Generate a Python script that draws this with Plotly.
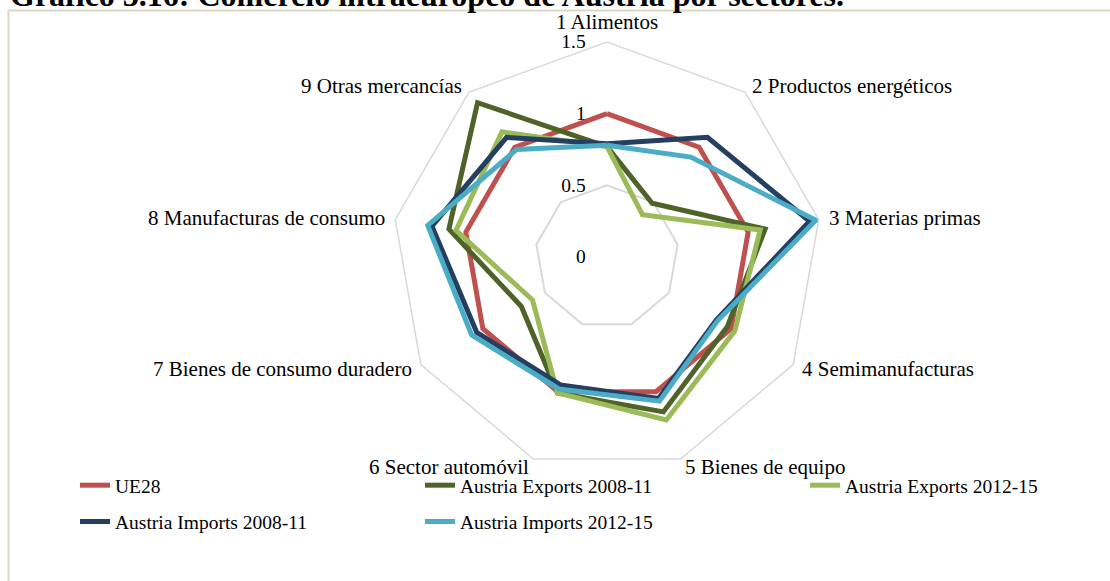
import math
import plotly.graph_objects as go

categories = ["1 Alimentos", "2 Productos energéticos", "3 Materias primas",
              "4 Semimanufacturas", "5 Bienes de equipo", "6 Sector automóvil",
              "7 Bienes de consumo duradero", "8 Manufacturas de consumo",
              "9 Otras mercancías"]

ue28 = [1.00, 1.00, 1.00, 1.00, 1.00, 1.00, 1.00, 1.00, 1.00]
exp_0811 = [0.77, 0.49, 1.12, 0.97, 1.15, 1.01, 0.69, 1.12, 1.405]
exp_1215 = [0.77, 0.385, 1.085, 1.03, 1.21, 1.01, 0.60, 1.07, 1.14]
imp_0811 = [0.79, 1.09, 1.435, 0.88, 1.05, 0.95, 1.05, 1.24, 1.09]
imp_1215 = [0.78, 0.91, 1.48, 0.89, 1.07, 0.98, 1.09, 1.27, 0.98]

radial_ticks = [0, 0.5, 1, 1.5]
radial_ticktext = ["0", "0.5", "1", "1.5"]

series = [
    ("UE28", ue28, "#C0504D", "legend"),
    ("Austria Exports 2008-11", exp_0811, "#4F6228", "legend2"),
    ("Austria Exports 2012-15", exp_1215, "#9BBB59", "legend3"),
    ("Austria Imports 2008-11", imp_0811, "#243F60", "legend"),
    ("Austria Imports 2012-15", imp_1215, "#4BACC6", "legend2"),
]

FONT = "Liberation Serif, Times New Roman, serif"

fig = go.Figure()
for i, (name, vals, color, leg) in enumerate(series):
    fig.add_trace(go.Scatterpolar(
        r=vals + vals[:1],
        theta=categories + categories[:1],
        mode="lines",
        name=name,
        line=dict(color=color, width=5),
        legend=leg,
        legendgroup="g%d" % i,
    ))

W, H = 1110, 581
cx, cy, R = 607, 257, 215

legend_common = dict(
    orientation="v", xanchor="left", yanchor="top",
    font=dict(family=FONT, size=19.5, color="black"),
    bgcolor="rgba(0,0,0,0)", tracegroupgap=8, traceorder="grouped",
)

fig.update_layout(
    width=W, height=H,
    margin=dict(l=0, r=0, t=0, b=0),
    paper_bgcolor="white",
    font=dict(family=FONT, color="black"),
    polar=dict(
        domain=dict(x=[(cx - R) / W, (cx + R) / W],
                    y=[(H - cy - R) / H, (H - cy + R) / H]),
        bgcolor="white",
        gridshape="linear",
        radialaxis=dict(
            range=[0, 1.5], tickvals=radial_ticks, ticktext=radial_ticktext,
            showline=False, ticks="outside", ticklen=14,
            tickcolor="rgba(0,0,0,0)", angle=90, side="counterclockwise",
            tickangle=90,
            gridcolor="#D9D9D9", gridwidth=1.5,
            tickfont=dict(family=FONT, size=19.5, color="black"),
        ),
        angularaxis=dict(
            rotation=90, direction="clockwise",
            showgrid=False, showline=True, linecolor="#D9D9D9", linewidth=1.5,
            ticks="", showticklabels=False,
        ),
    ),
    legend=dict(x=(115 - 40) / W, y=1 - 466 / H, **legend_common),
    legend2=dict(x=(460 - 40) / W, y=1 - 466 / H, **legend_common),
    legend3=dict(x=(845 - 40) / W, y=1 - 466 / H, **legend_common),
    showlegend=True,
)

# category labels placed just outside the outer polygon vertices
n = len(categories)
for k, cat in enumerate(categories):
    ang = math.radians(90 - 360.0 * k / n)
    c, s = math.cos(ang), math.sin(ang)
    pad = 6 if s > 0.95 else 8
    px = cx + (R + pad) * c
    py = cy - (R + pad) * s
    if c > 0.1:
        xa = "left"
    elif c < -0.1:
        xa = "right"
    else:
        xa = "center"
    ya = "bottom" if s > 0.95 else "middle"
    fig.add_annotation(
        text=cat, xref="paper", yref="paper", x=px / W, y=1 - py / H,
        xanchor=xa, yanchor=ya, showarrow=False,
        font=dict(family=FONT, size=21, color="black"),
    )

fig.add_shape(type="rect", xref="paper", yref="paper",
              x0=8.5 / W, x1=1.02, y0=-0.02, y1=1 - 10.5 / H,
              line=dict(color="#DDD8C4", width=2), fillcolor="rgba(0,0,0,0)",
              layer="below")

fig.add_annotation(
    text="<b>Gráfico 3.16: Comercio intraeuropeo de Austria por sectores.</b>",
    xref="paper", yref="paper", x=8 / W, y=1 - 15.5 / H,
    xanchor="left", yanchor="bottom", showarrow=False,
    font=dict(family=FONT, size=32, color="black"),
)

fig.write_html("out.html",
               config={"displayModeBar": False},
               post_script="document.body.style.margin='0px';"
                           "document.body.style.overflow='hidden';")
